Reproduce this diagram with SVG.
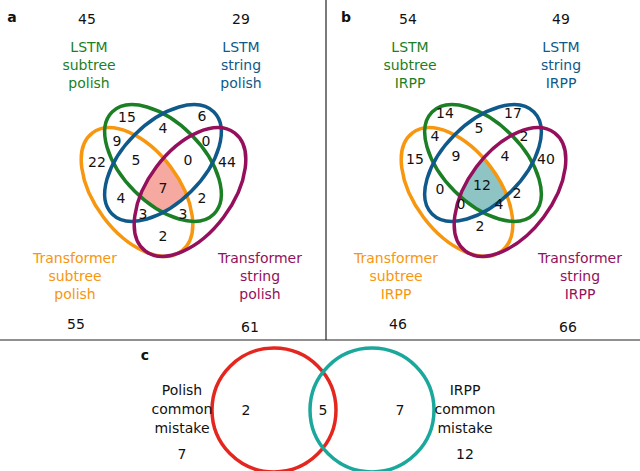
<svg xmlns="http://www.w3.org/2000/svg" width="640" height="471" viewBox="0 0 640 471">
<style>
text{font-family:"DejaVu Sans","Liberation Sans",sans-serif;font-size:14px;text-anchor:middle;fill:#111}
.e{fill:none;stroke-width:3.5}
.or{stroke:#f7960f}.gr{stroke:#1b7f25}.bl{stroke:#0f5a8a}.pu{stroke:#95105c}
.tor{fill:#f7960f}.tgr{fill:#1b7f25}.tbl{fill:#0f5a8a}.tpu{fill:#95105c}
.lb{font-weight:bold}
</style>
<defs>
<ellipse id="O" cx="137" cy="192" rx="74" ry="42" transform="rotate(53 137 192)"/>
<ellipse id="G" cx="163" cy="163" rx="72" ry="40" transform="rotate(45 163 163)"/>
<ellipse id="B" cx="163" cy="163" rx="72" ry="40" transform="rotate(-45 163 163)"/>
<ellipse id="P" cx="190" cy="192" rx="74" ry="42" transform="rotate(-53 190 192)"/>
<clipPath id="cO"><use href="#O"/></clipPath>
<clipPath id="cB"><use href="#B"/></clipPath>
<clipPath id="cP"><use href="#P"/></clipPath>
</defs>
<g id="frame" stroke="#222" stroke-width="1.2">
<line x1="326" y1="0" x2="326" y2="340"/>
<line x1="0" y1="340" x2="640" y2="340"/>
</g>
<g id="panel-a">
<text class="lb" x="12" y="22">a</text>
<g clip-path="url(#cO)"><g clip-path="url(#cP)"><g clip-path="url(#cB)"><use href="#G" fill="#f6a9a0"/></g></g></g>
<use href="#O" class="e or"/><use href="#G" class="e gr"/><use href="#B" class="e bl"/><use href="#P" class="e pu"/>
<text x="87" y="24">45</text><text x="241" y="24">29</text>
<text class="tgr" x="89" y="52">LSTM</text><text class="tgr" x="89" y="70">subtree</text><text class="tgr" x="89" y="88">polish</text>
<text class="tbl" x="241" y="52">LSTM</text><text class="tbl" x="241" y="70">string</text><text class="tbl" x="241" y="88">polish</text>
<text x="127" y="122">15</text><text x="163" y="133">4</text><text x="202" y="121">6</text>
<text x="117" y="146">9</text><text x="206" y="146">0</text>
<text x="97" y="167">22</text><text x="136" y="165">5</text><text x="188" y="165">0</text><text x="227" y="167">44</text>
<text x="163" y="193">7</text>
<text x="121" y="203">4</text><text x="202" y="203">2</text>
<text x="143" y="219">3</text><text x="183" y="219">3</text>
<text x="163" y="241">2</text>
<text class="tor" x="75" y="263">Transformer</text><text class="tor" x="75" y="281">subtree</text><text class="tor" x="75" y="299">polish</text>
<text class="tpu" x="260" y="263">Transformer</text><text class="tpu" x="260" y="281">string</text><text class="tpu" x="260" y="299">polish</text>
<text x="76" y="329">55</text><text x="250" y="332">61</text>
</g>
<g id="panel-b">
<text class="lb" x="346" y="22">b</text>
<g transform="translate(320,0)">
<g clip-path="url(#cO)"><g clip-path="url(#cP)"><g clip-path="url(#cB)"><use href="#G" fill="#8fc4c4"/></g></g></g>
<use href="#O" class="e or"/><use href="#G" class="e gr"/><use href="#B" class="e bl"/><use href="#P" class="e pu"/>
</g>
<text x="408" y="24">54</text><text x="561" y="24">49</text>
<text class="tgr" x="410" y="52">LSTM</text><text class="tgr" x="410" y="70">subtree</text><text class="tgr" x="410" y="88">IRPP</text>
<text class="tbl" x="561" y="52">LSTM</text><text class="tbl" x="561" y="70">string</text><text class="tbl" x="561" y="88">IRPP</text>
<text x="445" y="118">14</text><text x="479" y="133">5</text><text x="513" y="118">17</text>
<text x="435" y="141">4</text><text x="524" y="141">2</text>
<text x="415" y="164">15</text><text x="456" y="161">9</text><text x="505" y="161">4</text><text x="546" y="164">40</text>
<text x="482" y="190">12</text>
<text x="440" y="194">0</text><text x="517" y="198">2</text>
<text x="461" y="209">0</text><text x="499" y="209">4</text>
<text x="480" y="231">2</text>
<text class="tor" x="396" y="263">Transformer</text><text class="tor" x="396" y="281">subtree</text><text class="tor" x="396" y="299">IRPP</text>
<text class="tpu" x="580" y="263">Transformer</text><text class="tpu" x="580" y="281">string</text><text class="tpu" x="580" y="299">IRPP</text>
<text x="398" y="329">46</text><text x="568" y="332">66</text>
</g>
<g id="panel-c">
<text class="lb" x="145" y="360">c</text>
<circle cx="274" cy="410" r="62" fill="none" stroke="#e5261e" stroke-width="3.5"/>
<circle cx="372" cy="410" r="62" fill="none" stroke="#1aa89c" stroke-width="3.5"/>
<text x="246" y="415">2</text><text x="323" y="415">5</text><text x="400" y="415">7</text>
<text fill="#e5261e" x="182" y="395">Polish</text><text fill="#e5261e" x="182" y="414">common</text><text fill="#e5261e" x="182" y="433">mistake</text>
<text x="182" y="459">7</text>
<text fill="#1aa89c" x="465" y="395">IRPP</text><text fill="#1aa89c" x="465" y="414">common</text><text fill="#1aa89c" x="465" y="433">mistake</text>
<text x="465" y="459">12</text>
</g>
</svg>
